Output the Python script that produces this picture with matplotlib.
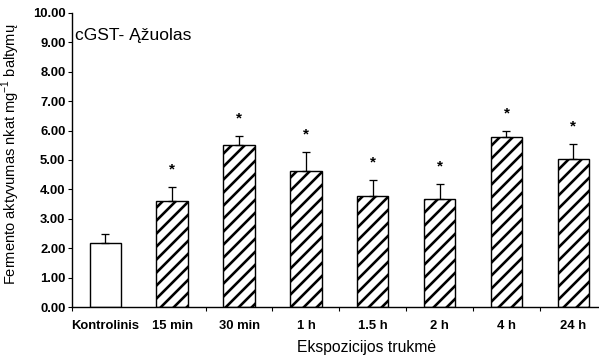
import matplotlib
matplotlib.use("Agg")
import matplotlib.pyplot as plt

# duomenys: vidurkiai ir paklaidos (nkat mg-1 baltymų)
laikai = ["Kontrolinis", "15 min", "30 min", "1 h", "1.5 h", "2 h", "4 h", "24 h"]
vidurkiai = [2.17, 3.60, 5.52, 4.64, 3.79, 3.69, 5.77, 5.03]
paklaidos = [0.32, 0.47, 0.29, 0.63, 0.52, 0.50, 0.22, 0.50]
reiksmingi = [False, True, True, True, True, True, True, True]

plt.rcParams["font.family"] = ["Liberation Sans", "DejaVu Sans"]
plt.rcParams["mathtext.fontset"] = "custom"
plt.rcParams["mathtext.rm"] = "Liberation Sans"
plt.rcParams["hatch.linewidth"] = 2.4

DPI = 78
fig = plt.figure(figsize=(599 / DPI, 356 / DPI), dpi=DPI)
ax = fig.add_axes([0.120, 0.1376, 0.893, 0.826])

x = list(range(len(laikai)))
for i in x:
    ax.bar(i, vidurkiai[i], width=0.47, color="white", edgecolor="black",
           linewidth=1.3, hatch="" if i == 0 else "//", zorder=2)

# tik viršutinės paklaidų linijos
ax.errorbar(x, vidurkiai, yerr=[[0] * len(x), paklaidos], fmt="none",
            ecolor="black", elinewidth=1.2, capsize=4, capthick=1.2, zorder=3)

for i in x:
    if reiksmingi[i]:
        ax.text(i, vidurkiai[i] + paklaidos[i] + 0.6, "*", ha="center",
                va="center", fontsize=14, fontweight="bold")

ax.set_xlim(-0.5, 7.5)
ax.set_ylim(0, 10)
ax.set_yticks([k for k in range(11)])
ax.set_yticklabels(["%.2f" % k for k in range(11)], fontsize=12, fontweight="bold")
ax.set_xticks(x)
ax.set_xticklabels(laikai, fontsize=12, fontweight="bold")
ax.tick_params(axis="x", which="major", length=0, pad=12)
ax.set_xticks([-0.5, 1.5, 2.5, 3.5, 4.5, 5.5, 6.5], minor=True)
ax.tick_params(axis="x", which="minor", length=4, width=1, direction="out")
ax.tick_params(axis="y", length=4, width=1, direction="out", pad=2)

for s in ["top", "right"]:
    ax.spines[s].set_visible(False)
for s in ["left", "bottom"]:
    ax.spines[s].set_linewidth(1.3)

ax.text(0.005, 0.925, "cGST- Ąžuolas", transform=ax.transAxes, fontsize=16,
        va="center", ha="left")
ax.set_xlabel("Ekspozicijos trukmė", fontsize=14.5)
ax.xaxis.set_label_coords(0.55, -0.112)
ax.set_ylabel("Fermento aktyvumas nkat mg$^{-1}$ baltymų", fontsize=13.5)
ax.yaxis.set_label_coords(-0.094, 0.52)

fig.savefig("out.png", dpi=DPI)
